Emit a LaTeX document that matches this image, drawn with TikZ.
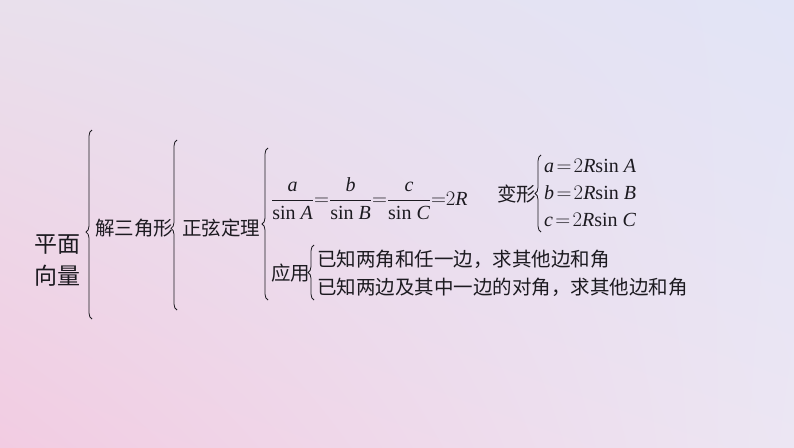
\documentclass[tikz,border=0pt]{standalone}
\usepackage{fontspec}
\setmainfont{Liberation Serif}
\newfontfamily\cjk{Noto Sans CJK SC}
\usetikzlibrary{decorations.pathreplacing,shadings}
\newcommand{\vi}[1]{\mbox{\itshape #1}}
\definecolor{txt}{RGB}{28,26,32}
\definecolor{bgul}{RGB}{233,224,236}
\definecolor{bgur}{RGB}{226,228,246}
\definecolor{bgll}{RGB}{242,204,226}
\definecolor{bglr}{RGB}{236,230,243}
\begin{document}
\begin{tikzpicture}[x=1pt,y=-1pt,
  cjkt/.style={font=\cjk\fontsize{19.5}{26}\selectfont, inner sep=0pt, anchor=west, text=txt},
  bigt/.style={font=\cjk\fontsize{23}{32}\selectfont, inner sep=0pt, align=center, text=txt},
  mth/.style={font=\fontsize{20}{26}\selectfont, inner sep=0pt, anchor=west, text=txt},
  br/.style={decorate, decoration={brace, amplitude=6pt, aspect=#1}, line width=0.8pt, draw=txt},
  br/.default=0.5]
\useasboundingbox (0,0) rectangle (794,447);
\shade[upper left=bgul, upper right=bgur, lower left=bgll, lower right=bglr] (0,0) rectangle (794,447);

% level 1
\node[bigt] (pm) at (57,261) {平面\\向量};
\coordinate (b1s) at (92,319);
\coordinate (b1e) at (92,130);
\draw[br=0.46] (b1s) -- (b1e);

% level 2
\node[cjkt] (jsj) at (95,228) {解三角形};
\coordinate (b2s) at (177,310);
\coordinate (b2e) at (177,140);
\draw[br=0.48] (b2s) -- (b2e);

% level 3
\node[cjkt] (zx) at (182,228) {正弦定理};
\coordinate (b3s) at (268,300);
\coordinate (b3e) at (268,148);
\draw[br=0.5] (b3s) -- (b3e);

% formula
\node[mth] (fm) at (271,199) {$\displaystyle\frac{\vi{a}}{\mbox{sin }\vi{A}}{=}\frac{\vi{b}}{\mbox{sin }\vi{B}}{=}\frac{\vi{c}}{\mbox{sin }\vi{C}}{=}2\vi{R}$};

% 变形
\node[cjkt] (bx) at (497,194) {变形};
\coordinate (b4s) at (541,232);
\coordinate (b4e) at (541,155);
\draw[br=0.5] (b4s) -- (b4e);
\node[mth] (ea) at (544,166) {$\vi{a}\!=\!2\vi{R}\mbox{sin }\vi{A}$};
\node[mth] (eb) at (544,193) {$\vi{b}\!=\!2\vi{R}\mbox{sin }\vi{B}$};
\node[mth] (ec) at (544,220) {$\vi{c}\!=\!2\vi{R}\mbox{sin }\vi{C}$};

% 应用
\node[cjkt] (yy) at (271,273) {应用};
\coordinate (b5s) at (314,300);
\coordinate (b5e) at (314,245);
\draw[br=0.5] (b5s) -- (b5e);
\node[cjkt] (u1) at (317,259) {已知两角和任一边，求其他边和角};
\node[cjkt] (u2) at (317,287) {已知两边及其中一边的对角，求其他边和角};
\end{tikzpicture}
\end{document}
